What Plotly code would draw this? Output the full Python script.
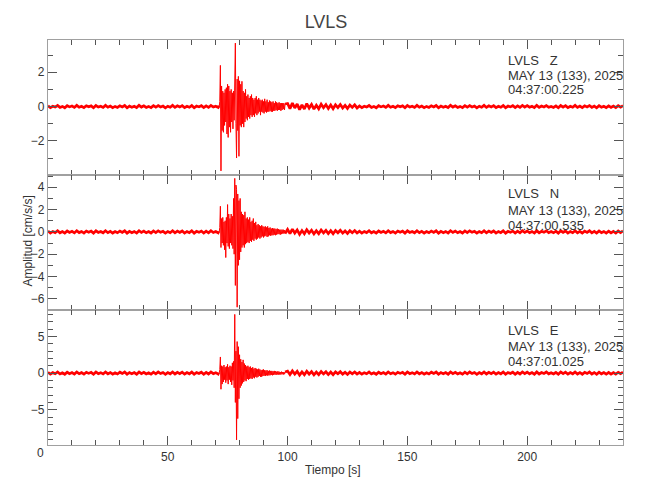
import plotly.graph_objects as go
from plotly.subplots import make_subplots

# ---------------- data ----------------
station = "LVLS"
components = ["Z", "N", "E"]
date_label = "MAY 13 (133), 2025"
start_times = ["04:37:00.225", "04:37:00.535", "04:37:01.025"]

# sample spacing of each segment (s) and segment start times (s)
pre_start, pre_step = 0.0, 1.0
event_start, event_step = 71.2, 0.25
coda_start, coda_step = 100.0, 1.0

# ---- Z component (cm/s/s)
z_pre = [0.04,-0.06,0.02,-0.03,0.06,-0.05,0.01,-0.07,0.05,-0.02,
         0.03,-0.05,0.07,-0.04,0.02,-0.06,0.05,-0.01,0.04,-0.07,
         0.06,-0.03,0.02,-0.05,0.07,-0.04,0.03,-0.06,0.01,-0.05,
         0.05,-0.02,0.06,-0.07,0.03,-0.04,0.02,-0.06,0.07,-0.03,
         0.04,-0.05,0.01,-0.06,0.05,-0.04,0.06,-0.02,0.03,-0.07,
         0.02,-0.04,0.07,-0.05,0.04,-0.03,0.05,-0.06,0.02,-0.04,
         0.06,-0.07,0.03,-0.02,0.05,-0.06,0.04,-0.05,0.07,-0.03,
         0.02,-0.05]
z_event = [0.05,-0.06,0.3,2.4,-3.75,1.2,-1.4,0.9,-1.5,0.8,
           -1.1,1.0,-0.9,1.1,-1.6,1.3,-1.8,1.2,-1.2,0.9,
           -1.5,1.0,-0.9,0.8,-1.3,0.9,-0.8,1.2,3.7,-1.0,
           -3.0,1.6,-1.4,1.76,-2.9,1.5,-1.1,1.3,-1.2,1.47,
           -1.0,0.9,-1.2,0.8,-0.9,1.0,-0.7,0.6,-0.8,0.7,
           -0.6,0.5,-0.7,0.6,-0.5,0.7,-0.6,0.5,-0.5,0.4,
           -0.6,0.5,-0.4,0.6,-0.5,0.4,-0.4,0.5,-0.3,0.4,
           -0.5,0.35,-0.3,0.4,-0.35,0.3,-0.4,0.45,-0.3,0.3,
           -0.35,0.4,-0.3,0.25,-0.3,0.35,-0.25,0.3,-0.3,0.25,
           -0.3,0.3,-0.25,0.2,-0.25,0.3,-0.2,0.25,-0.25,0.2,
           -0.2,0.25,-0.2,0.2,-0.25,0.2,-0.2,0.2,-0.15,0.2,
           -0.2,0.15]
z_coda = [0.18,-0.12,0.2,-0.08,0.15,-0.18,0.1,-0.14,0.17,-0.09,
          0.12,-0.15,0.08,-0.13,0.14,-0.07,0.11,-0.12,0.09,-0.13,
          0.1,-0.06,0.12,-0.09,0.07,-0.11,0.09,-0.05,0.1,-0.08,
          0.04,-0.06,0.02,-0.03,0.06,-0.05,0.01,-0.07,0.05,-0.02,
          0.03,-0.05,0.07,-0.04,0.02,-0.06,0.05,-0.01,0.04,-0.07,
          0.06,-0.03,0.02,-0.05,0.07,-0.04,0.03,-0.06,0.01,-0.05,
          0.05,-0.02,0.06,-0.07,0.03,-0.04,0.02,-0.06,0.07,-0.03,
          0.04,-0.05,0.01,-0.06,0.05,-0.04,0.06,-0.02,0.03,-0.07,
          0.02,-0.04,0.07,-0.05,0.04,-0.03,0.05,-0.06,0.02,-0.04,
          0.06,-0.07,0.03,-0.02,0.05,-0.06,0.04,-0.05,0.07,-0.03,
          0.05,-0.04,0.02,-0.06,0.07,-0.05,0.03,-0.02,0.06,-0.04,
          0.01,-0.05,0.04,-0.07,0.06,-0.03,0.05,-0.06,0.02,-0.04,
          0.07,-0.05,0.03,-0.06,0.04,-0.02,0.06,-0.05,0.03,-0.07,
          0.05,-0.04,0.02,-0.06,0.04,-0.05,0.03,-0.06,0.05,-0.04,
          0.06]

# ---- N component (cm/s/s)
n_pre = [0.07,-0.1,0.04,-0.06,0.1,-0.08,0.03,-0.11,0.08,-0.05,
         0.05,-0.09,0.11,-0.06,0.04,-0.1,0.08,-0.03,0.07,-0.11,
         0.1,-0.05,0.04,-0.08,0.11,-0.07,0.05,-0.1,0.03,-0.08,
         0.08,-0.04,0.1,-0.11,0.05,-0.07,0.04,-0.1,0.11,-0.05,
         0.07,-0.08,0.03,-0.1,0.08,-0.07,0.1,-0.04,0.05,-0.11,
         0.04,-0.07,0.11,-0.08,0.07,-0.05,0.08,-0.1,0.04,-0.07,
         0.1,-0.11,0.05,-0.04,0.08,-0.1,0.07,-0.08,0.11,-0.05,
         0.04,-0.08]
n_event = [0.05,-0.05,0.4,2.3,-1.4,1.2,-1.0,1.3,-1.2,0.9,
           -1.6,1.0,-2.3,1.3,-1.0,2.45,-1.3,1.6,-1.5,1.2,
           -1.0,1.6,-1.2,1.4,-1.5,3.0,-2.0,4.8,-4.8,4.2,
           3.8,-6.75,3.4,-3.0,2.8,-2.5,3.0,-1.8,1.8,-1.4,
           1.6,-1.2,1.5,-1.4,1.8,-1.1,1.2,-1.0,1.3,-0.9,
           1.1,-1.0,1.3,-0.8,0.9,-0.9,1.0,-0.7,1.2,-0.8,
           0.8,-0.6,0.9,-0.7,0.6,-0.6,0.7,-0.5,0.6,-0.6,
           0.5,-0.5,0.6,-0.4,0.5,-0.5,0.45,-0.4,0.5,-0.35,
           0.4,-0.45,0.5,-0.4,0.35,-0.3,0.4,-0.35,0.3,-0.3,
           0.35,-0.3,0.3,-0.25,0.3,-0.3,0.25,-0.25,0.3,-0.2,
           0.25,-0.2,0.2,-0.25,0.2,-0.2,0.2,-0.15,0.2,-0.15,
           0.15,-0.15]
n_coda = [0.22,-0.15,0.25,-0.1,0.18,-0.22,0.12,-0.17,0.2,-0.11,
          0.15,-0.18,0.1,-0.16,0.17,-0.09,0.14,-0.15,0.11,-0.16,
          0.13,-0.08,0.15,-0.11,0.09,-0.14,0.11,-0.07,0.12,-0.1,
          0.07,-0.1,0.04,-0.06,0.1,-0.08,0.03,-0.11,0.08,-0.05,
          0.05,-0.09,0.11,-0.06,0.04,-0.1,0.08,-0.03,0.07,-0.11,
          0.1,-0.05,0.04,-0.08,0.11,-0.07,0.05,-0.1,0.03,-0.08,
          0.08,-0.04,0.1,-0.11,0.05,-0.07,0.04,-0.1,0.11,-0.05,
          0.07,-0.08,0.03,-0.1,0.08,-0.07,0.1,-0.04,0.05,-0.11,
          0.04,-0.07,0.11,-0.08,0.07,-0.05,0.08,-0.1,0.04,-0.07,
          0.1,-0.11,0.05,-0.04,0.08,-0.1,0.07,-0.08,0.11,-0.05,
          0.08,-0.07,0.04,-0.1,0.11,-0.08,0.05,-0.04,0.1,-0.07,
          0.03,-0.08,0.07,-0.11,0.1,-0.05,0.08,-0.1,0.04,-0.07,
          0.11,-0.08,0.05,-0.1,0.07,-0.04,0.1,-0.08,0.05,-0.11,
          0.08,-0.07,0.04,-0.1,0.07,-0.09,0.05,-0.1,0.08,-0.06,
          0.09]

# ---- E component (cm/s/s)
e_pre = [0.1,-0.15,0.06,-0.09,0.15,-0.12,0.04,-0.16,0.12,-0.07,
         0.08,-0.13,0.16,-0.09,0.06,-0.15,0.12,-0.04,0.1,-0.16,
         0.15,-0.08,0.06,-0.12,0.16,-0.1,0.08,-0.15,0.04,-0.12,
         0.12,-0.06,0.15,-0.16,0.08,-0.1,0.06,-0.15,0.16,-0.08,
         0.1,-0.12,0.04,-0.15,0.12,-0.1,0.15,-0.06,0.08,-0.16,
         0.06,-0.1,0.16,-0.12,0.1,-0.08,0.12,-0.15,0.06,-0.1,
         0.15,-0.16,0.08,-0.06,0.12,-0.15,0.1,-0.12,0.16,-0.08,
         0.06,-0.12]
e_event = [0.05,-0.06,0.5,2.2,-2.2,1.0,-1.5,0.9,-1.2,1.1,
           -0.9,0.8,-1.3,0.9,-1.0,1.2,-1.5,0.8,-0.9,1.0,
           -1.2,0.9,-1.6,1.4,-1.0,1.6,-2.0,8.0,-4.0,3.0,
           -9.1,4.3,-6.2,3.6,-3.5,2.5,-2.0,1.9,-1.7,1.5,
           -1.4,1.8,-1.2,1.3,-1.0,1.1,-1.1,0.9,-0.8,1.0,
           -0.9,0.8,-0.8,0.9,-0.7,0.7,-0.8,0.8,-0.6,0.6,
           -0.7,0.7,-0.5,0.6,-0.6,0.5,-0.5,0.6,-0.4,0.5,
           -0.5,0.4,-0.5,0.45,-0.4,0.5,-0.35,0.4,-0.4,0.35,
           -0.3,0.4,-0.35,0.3,-0.3,0.35,-0.3,0.3,-0.25,0.3,
           -0.3,0.25,-0.25,0.3,-0.2,0.25,-0.25,0.2,-0.2,0.25,
           -0.2,0.2,-0.2,0.15,-0.2,0.2,-0.15,0.15,-0.2,0.15,
           -0.15,0.15]
e_coda = [0.28,-0.2,0.3,-0.14,0.24,-0.28,0.16,-0.22,0.26,-0.15,
          0.2,-0.24,0.14,-0.21,0.22,-0.12,0.18,-0.2,0.15,-0.21,
          0.17,-0.1,0.19,-0.14,0.12,-0.18,0.15,-0.09,0.16,-0.13,
          0.1,-0.15,0.06,-0.09,0.15,-0.12,0.04,-0.16,0.12,-0.07,
          0.08,-0.13,0.16,-0.09,0.06,-0.15,0.12,-0.04,0.1,-0.16,
          0.15,-0.08,0.06,-0.12,0.16,-0.1,0.08,-0.15,0.04,-0.12,
          0.12,-0.06,0.15,-0.16,0.08,-0.1,0.06,-0.15,0.16,-0.08,
          0.1,-0.12,0.04,-0.15,0.12,-0.1,0.15,-0.06,0.08,-0.16,
          0.06,-0.1,0.16,-0.12,0.1,-0.08,0.12,-0.15,0.06,-0.1,
          0.15,-0.16,0.08,-0.06,0.12,-0.15,0.1,-0.12,0.16,-0.08,
          0.12,-0.1,0.06,-0.15,0.16,-0.12,0.08,-0.06,0.15,-0.1,
          0.04,-0.12,0.1,-0.16,0.15,-0.08,0.12,-0.15,0.06,-0.1,
          0.16,-0.12,0.08,-0.15,0.1,-0.06,0.15,-0.12,0.08,-0.16,
          0.12,-0.1,0.06,-0.15,0.1,-0.13,0.08,-0.14,0.11,-0.09,
          0.12]

# axis settings
x_range = [0, 240]
x_ticks = [0, 50, 100, 150, 200]
x_ticklabels = ["", "50", "100", "150", "200"]   # the "0" is drawn offset, as in the original
y_ranges = [[-3.99, 3.88], [-7.0, 5.1], [-9.8, 8.6]]
y_dticks = [2, 2, 5]
x_title = "Tiempo [s]"
y_title = "Amplitud [cm/s/s]"

# ---------------- build traces ----------------
def seg(values, start, step):
    return [start + i * step for i in range(len(values))], list(values)

series = [(z_pre, z_event, z_coda), (n_pre, n_event, n_coda), (e_pre, e_event, e_coda)]

FONT = "Liberation Sans, Arial, sans-serif"
TXT = "#333333"
LINE = "#a0a0a0"
TICK = "#555555"
RED = "#ff0000"

L, R, T, B = 47.5, 27, 40, 55          # plot frame in pixels
W, H = 650, 500
PW, PH = W - L - R, H - T - B

fig = make_subplots(rows=3, cols=1, shared_xaxes=True, vertical_spacing=0)

for r, (pre, ev, co) in enumerate(series, start=1):
    tp, vp = seg(pre, pre_start, pre_step)
    te, ve = seg(ev, event_start, event_step)
    tc, vc = seg(co, coda_start, coda_step)
    fig.add_trace(go.Scatter(x=tp + te[:1], y=vp + ve[:1], mode="lines",
                             line=dict(color=RED, width=2.7),
                             showlegend=False, hoverinfo="skip"), row=r, col=1)
    fig.add_trace(go.Scatter(x=te[-1:] + tc, y=ve[-1:] + vc, mode="lines",
                             line=dict(color=RED, width=2.7),
                             showlegend=False, hoverinfo="skip"), row=r, col=1)
    fig.add_trace(go.Scatter(x=te, y=ve, mode="lines",
                             line=dict(color=RED, width=1),
                             showlegend=False, hoverinfo="skip"), row=r, col=1)
    fig.update_xaxes(range=x_range, ticks="inside",
                     tickmode="array", tickvals=x_ticks, ticktext=x_ticklabels,
                     ticklen=9, tickwidth=1, tickcolor=TICK,
                     minor=dict(ticks="inside", dtick=10, tick0=0, ticklen=5,
                                tickcolor=TICK, showgrid=False),
                     showline=True, linecolor=LINE, linewidth=1.3,
                     mirror="allticks", showgrid=False, zeroline=False,
                     automargin=False,
                     tickfont=dict(family=FONT, size=12, color=TXT),
                     row=r, col=1)
    fig.update_yaxes(range=y_ranges[r - 1], ticks="inside",
                     dtick=y_dticks[r - 1], tick0=0,
                     ticklen=9, tickwidth=1, tickcolor=TICK,
                     minor=dict(ticks="inside", dtick=1, ticklen=5,
                                tickcolor=TICK, showgrid=False),
                     showline=True, linecolor=LINE, linewidth=1.3,
                     mirror="allticks", showgrid=False, zeroline=False,
                     automargin=False,
                     tickfont=dict(family=FONT, size=12, color=TXT),
                     row=r, col=1)

def px_to_paper(xp, yp):
    return (xp - L) / PW, (H - B - yp) / PH

annotations = []
line_y = [[61, 75, 89], [194, 210, 225], [330, 346, 361]]
for k in range(3):
    texts = [station + "\u00a0\u00a0\u00a0" + components[k], date_label, start_times[k]]
    for j in range(3):
        ax, ay = px_to_paper(506, line_y[k][j])
        annotations.append(dict(
            x=ax, y=ay, xref="paper", yref="paper", xanchor="left", yanchor="middle",
            text=texts[j], showarrow=False,
            font=dict(family=FONT, size=13, color=TXT)))
ax, ay = px_to_paper(333, 470)
annotations.append(dict(x=ax, y=ay, xref="paper", yref="paper",
                        xanchor="center", yanchor="middle", text=x_title,
                        showarrow=False, font=dict(family=FONT, size=12, color=TXT)))
ax, ay = px_to_paper(27, 241)
annotations.append(dict(x=ax, y=ay, xref="paper", yref="paper",
                        xanchor="center", yanchor="middle", text=y_title,
                        textangle=-90, showarrow=False,
                        font=dict(family=FONT, size=12, color=TXT)))
ax, ay = px_to_paper(40, 453)
annotations.append(dict(x=ax, y=ay, xref="paper", yref="paper",
                        xanchor="center", yanchor="middle", text=str(x_ticks[0]),
                        showarrow=False, font=dict(family=FONT, size=12, color=TXT)))

fig.update_layout(
    width=W, height=H,
    margin=dict(l=L, r=R, t=T, b=B, autoexpand=False),
    paper_bgcolor="white", plot_bgcolor="white",
    title=dict(text=station, x=326 / W, xanchor="center", y=1 - 22 / H,
               yanchor="middle", font=dict(family=FONT, size=18, color="#444444")),
    annotations=annotations,
)

fig.write_html("out.html", config={"displayModeBar": False},
               post_script="document.body.style.margin='0px';")
